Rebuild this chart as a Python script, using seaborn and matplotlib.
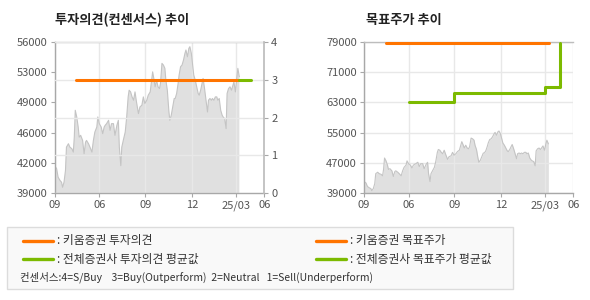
import matplotlib
matplotlib.use("Agg")
import matplotlib.pyplot as plt
from matplotlib.lines import Line2D
from matplotlib.patches import Rectangle
import seaborn as sns
import pandas as pd

# ---------------- data ----------------
days = [0,4,7,11,14,16,19,22,24,28,
        31,35,38,40,42,45,48,50,53,57,
        60,63,65,69,72,76,79,82,86,88,
        91,95,98,101,103,106,110,113,116,120,
        123,127,130,132,135,137,140,144,147,150,
        152,155,158,161,164,167,171,174,178,181,
        184,188,191,195,198,200,203,205,208,211,
        214,216,219,222,225,227,230,233,235,238,
        241,244,246,249,252,254,257,260,263,266,
        268,271,274,276,279,282,284,287,290,293,
        295,298,301,303,306,309,312,314,317,320,
        322,325,328,331,333,336,339,342,344,347,
        350,352,355,358,361,363,366,369,372,374,
        377]
prices = [42100,41750,40800,40430,40240,39680,40240,41560,44180,44560,
          44180,44000,43620,45300,48310,47560,46430,45300,45500,44930,
          43440,44740,44930,44560,44180,43620,44930,45870,46430,47560,
          46810,46430,45690,46430,46620,46810,47190,46060,46810,46810,
          45500,46620,47190,44180,42100,44180,44930,45870,47560,49810,
          50560,50370,49810,49440,50370,49250,47940,48680,48880,49810,
          49070,49440,50000,50370,51690,52620,51690,50940,51690,50940,
          50750,51320,53570,53380,53010,51690,50560,48310,47190,47750,
          48680,49630,49630,50190,51320,52250,53190,53380,53940,54700,
          55070,54310,55260,55440,54700,53190,52250,51690,50940,50190,
          50000,50560,51320,51880,50750,49440,48120,49440,49630,49440,
          49630,49440,49810,49810,49440,49630,48310,47750,47560,47380,
          46250,50190,50750,50940,50560,50940,51500,50370,52060,53010,
          52060]

# consensus (investment opinion)
kiwoom_op_days = [44, 376]
kiwoom_op_vals = [3, 3]
all_op_days = [376, 400]
all_op_vals = [3, 3]

# target prices
kiwoom_tp_days = [44, 378]
kiwoom_tp_vals = [78700, 78700]
all_tp_days = [91, 185, 371, 400]
all_tp_vals = [63000, 65500, 67000, 78700]

x_tick_days = [0, 91, 185, 281, 371, 428]
x_tick_labels = ["09", "06", "09", "12", "25/03", "06"]

left_price_ticks = [39000, 42400, 45800, 49200, 52600, 56000]
left_price_labels = ["39000", "42000", "46000", "49000", "53000", "56000"]
opinion_ticks = [0, 1, 2, 3, 4]
tp_ticks = [39000, 47000, 55000, 63000, 71000, 79000]

title_left = "투자의견(컨센서스) 추이"
title_right = "목표주가 추이"
legend_items = [": 키움증권 투자의견", ": 전체증권사 투자의견 평균값",
                ": 키움증권 목표주가", ": 전체증권사 목표주가 평균값"]
consensus_note = "컨센서스:4=S/Buy    3=Buy(Outperform)  2=Neutral   1=Sell(Underperform)"

# ---------------- style ----------------
sns.set_theme(style="white")
plt.rcParams["font.family"] = ["Noto Sans CJK KR", "DejaVu Sans"]

ORANGE = "#ff7400"
GREEN = "#7cba00"
FILL = "#e0e0e0"
EDGE = "#c4c4c4"
GRID = "#e8e8e8"
SPINE = "#a8a8a8"
TXT = "#555555"

price_df = pd.DataFrame({"day": days, "price": prices})

fig = plt.figure(figsize=(5.9, 3.0), dpi=100)
fig.patch.set_facecolor("white")

W, H = 590.0, 300.0
axL = fig.add_axes([54.7 / W, (H - 193.3) / H, (264.3 - 54.7) / W, (193.3 - 41.7) / H])
axR = fig.add_axes([364.0 / W, (H - 193.3) / H, (573.3 - 364.0) / W, (193.3 - 41.7) / H])


def style_axis(ax):
    ax.set_facecolor("white")
    ax.set_xlim(0, 428)
    ax.set_xticks(x_tick_days)
    ax.set_xticklabels(x_tick_labels)
    ax.tick_params(axis="both", colors=SPINE, labelcolor=TXT, labelsize=8,
                   length=3, width=0.8, pad=2, direction="out")
    ax.tick_params(axis="x", bottom=True)
    ax.tick_params(axis="y", left=True)
    ax.grid(False)
    ax.xaxis.grid(True, color=GRID, linewidth=1)
    ax.set_axisbelow("line")
    for s in ["left", "bottom"]:
        ax.spines[s].set_color(SPINE)
        ax.spines[s].set_linewidth(1)
    ax.spines["top"].set_color("#bdbdbd")
    ax.spines["top"].set_linewidth(1)
    ax.set_xlabel("")
    ax.set_ylabel("")


def draw_price(ax):
    ax.fill_between(price_df["day"], price_df["price"], 0, color=FILL, linewidth=0, zorder=1)
    sns.lineplot(data=price_df, x="day", y="price", ax=ax, color=EDGE, linewidth=0.8, zorder=2)


# ----- left chart -----
draw_price(axL)
axL.set_ylim(39000, 56000)
axL.set_yticks(left_price_ticks)
axL.set_yticklabels(left_price_labels)
style_axis(axL)
axL.spines["right"].set_visible(False)

axL2 = axL.twinx()
axL2.set_ylim(0, 4)
axL2.set_yticks(opinion_ticks)
axL2.yaxis.grid(True, color=GRID, linewidth=1)
axL2.tick_params(axis="y", colors=SPINE, labelcolor=TXT, labelsize=8, length=3,
                 width=0.8, pad=2, right=True, direction="out")
for s in ["left", "bottom", "top"]:
    axL2.spines[s].set_visible(False)
axL2.spines["right"].set_color("#bdbdbd")
sns.lineplot(x=kiwoom_op_days, y=kiwoom_op_vals, ax=axL2, color=ORANGE, linewidth=2.2)
sns.lineplot(x=all_op_days, y=all_op_vals, ax=axL2, color=GREEN, linewidth=2.2)
axL2.set_xlim(0, 428)
axL2.set_ylabel("")
axL.set_zorder(0)

# ----- right chart -----
draw_price(axR)
axR.set_ylim(39000, 79000)
axR.set_yticks(tp_ticks)
style_axis(axR)
axR.yaxis.grid(True, color=GRID, linewidth=1)
axR.spines["right"].set_visible(False)
sns.lineplot(x=kiwoom_tp_days, y=kiwoom_tp_vals, ax=axR, color=ORANGE, linewidth=2.2, zorder=4)
axR.step(all_tp_days, all_tp_vals, where="post", color=GREEN, linewidth=2.2, zorder=4)
axR.plot([all_tp_days[-2], all_tp_days[-1]], [all_tp_vals[-2], all_tp_vals[-2]], alpha=0)

# titles
fig.text(55 / W, 1 - 20 / H, title_left, fontsize=9.5, fontweight="bold", color="#222222",
         va="center", ha="left")
fig.text(366 / W, 1 - 20 / H, title_right, fontsize=9.5, fontweight="bold", color="#222222",
         va="center", ha="left")

# ----- legend box -----
fig.patches.append(Rectangle((7 / W, 1 - 289 / H), (513 - 7) / W, (289 - 227) / H,
                             transform=fig.transFigure, facecolor="#f9f9f9",
                             edgecolor="#dcdcdc", linewidth=1, zorder=0))
leg_colors = [ORANGE, GREEN, ORANGE, GREEN]
leg_pos = [(23, 240.7), (23, 259), (316, 240.7), (316, 259)]
for (lx, ly), c, t in zip(leg_pos, leg_colors, legend_items):
    fig.lines.append(Line2D([lx / W, (lx + 30) / W], [1 - ly / H, 1 - ly / H],
                            transform=fig.transFigure, color=c, linewidth=2.4))
    fig.text((lx + 34) / W, 1 - ly / H, t, fontsize=8.5, color="#333333",
             va="center", ha="left")
fig.text(20 / W, 1 - 277 / H, consensus_note, fontsize=7.5, color="#333333",
         va="center", ha="left")

fig.savefig("out.png", dpi=100, facecolor="white")
